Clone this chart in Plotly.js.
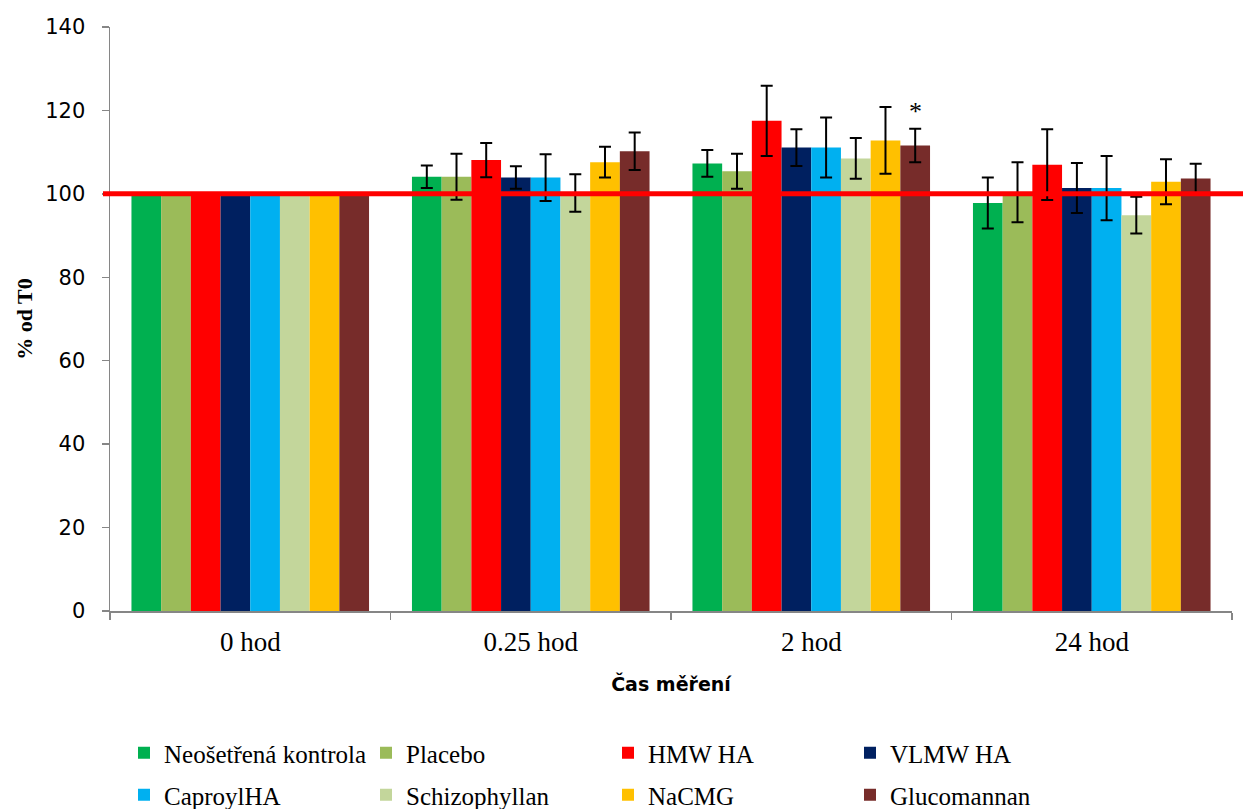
<!DOCTYPE html>
<html>
<head>
<meta charset="utf-8">
<script src="https://cdn.plot.ly/plotly-3.0.1.min.js"></script>
<style>html,body{margin:0;padding:0;background:#fff;}#chart{width:1243px;height:809px;}</style>
</head>
<body>
<div id="chart"></div>
<script>
const categories = ['0 hod', '0.25 hod', '2 hod', '24 hod'];
const seriesNames = ['Neošetřená kontrola', 'Placebo', 'HMW HA', 'VLMW HA', 'CaproylHA', 'Schizophyllan', 'NaCMG', 'Glucomannan'];
const seriesColors = ['#00B050', '#9BBB59', '#FF0000', '#002060', '#00B0F0', '#C3D69B', '#FFC000', '#772C2A'];

const kontrola      = [100, 104.1, 107.3, 97.8];
const placebo       = [100, 104.1, 105.4, 100.4];
const hmwHA         = [100, 108.1, 117.5, 107.0];
const vlmwHA        = [100, 103.9, 111.1, 101.4];
const caproylHA     = [100, 103.9, 111.1, 101.4];
const schizophyllan = [100, 100.2, 108.5, 94.9];
const naCMG         = [100, 107.6, 112.8, 102.9];
const glucomannan   = [100, 110.2, 111.6, 103.7];

const kontrolaErr      = [0, 2.7, 3.2, 6.1];
const placeboErr       = [0, 5.5, 4.2, 7.2];
const hmwHAErr         = [0, 4.1, 8.4, 8.5];
const vlmwHAErr        = [0, 2.7, 4.4, 6.0];
const caproylHAErr     = [0, 5.6, 7.2, 7.7];
const schizophyllanErr = [0, 4.5, 4.9, 4.4];
const naCMGErr         = [0, 3.7, 8.0, 5.4];
const glucomannanErr   = [0, 4.5, 4.0, 3.5];

const significance = ['', '', '*', ''];   // for Glucomannan
const referenceLevel = 100;
const yTicks = [0, 20, 40, 60, 80, 100, 120, 140];

const values = [kontrola, placebo, hmwHA, vlmwHA, caproylHA, schizophyllan, naCMG, glucomannan];
const errors = [kontrolaErr, placeboErr, hmwHAErr, vlmwHAErr, caproylHAErr, schizophyllanErr, naCMGErr, glucomannanErr];

const BARGAP = 0.153;
const serifFont = 'Liberation Serif, Times New Roman, serif';

const traces = seriesNames.map((name, i) => ({
  type: 'bar',
  name: name,
  x: categories,
  y: values[i],
  marker: {color: seriesColors[i], line: {width: 0}},
  error_y: {type: 'data', array: errors[i], visible: true, color: '#000000', thickness: 2, width: 6},
  legend: i < 4 ? 'legend' : 'legend2',
  hoverinfo: 'x+y+name'
}));

// significance annotations over Glucomannan bars
const nSeries = seriesNames.length;
const gIdx = 7;
const annotations = [];
significance.forEach((s, k) => {
  if (!s) return;
  const off = (gIdx - (nSeries - 1) / 2) * (1 - BARGAP) / nSeries;
  annotations.push({
    x: k + off, y: glucomannan[k] + glucomannanErr[k], xref: 'x', yref: 'y',
    text: s, showarrow: false, yanchor: 'bottom', yshift: 1,
    font: {family: serifFont, size: 26, color: '#000'}
  });
});

const legendCommon = {
  orientation: 'h', xanchor: 'left', yanchor: 'middle',
  entrywidth: 197, entrywidthmode: 'pixels',
  font: {family: serifFont, size: 25, color: '#000'},
  bgcolor: 'rgba(0,0,0,0)', borderwidth: 0, traceorder: 'normal'
};

const layout = {
  width: 1243, height: 809,
  margin: {l: 110, r: 11, t: 27, b: 198, pad: 0, autoexpand: false},
  paper_bgcolor: '#ffffff', plot_bgcolor: '#ffffff',
  barmode: 'group', bargap: BARGAP, bargroupgap: 0,
  showlegend: true,
  xaxis: {
    type: 'category', categoryorder: 'array', categoryarray: categories,
    automargin: false,
    showline: true, linecolor: '#868686', linewidth: 1.5,
    ticks: 'outside', tickson: 'boundaries', ticklen: 7, tickcolor: '#868686', tickwidth: 1.5,
    showgrid: false, zeroline: false,
    tickfont: {family: serifFont, size: 27, color: '#000'},
    ticklabelstandoff: 6,
    title: {text: 'Čas měření', font: {family: 'DejaVu Sans, sans-serif', size: 19, color: '#000', weight: 'bold'}, standoff: 22}
  },
  yaxis: {
    range: [0, 140], tickvals: yTicks, ticktext: yTicks.map(String),
    automargin: false,
    showline: true, linecolor: '#868686', linewidth: 1.5,
    ticks: 'outside', ticklen: 7, tickcolor: '#868686', tickwidth: 1.5,
    showgrid: false, zeroline: false,
    tickfont: {family: 'DejaVu Sans, sans-serif', size: 21, color: '#000'},
    ticklabelstandoff: 12,
    title: {text: '% od T0', font: {family: serifFont, size: 22, color: '#000', weight: 'bold'}, standoff: 6}
  },
  legend: Object.assign({}, legendCommon, {x: (144 - 20 - 110) / 1122, y: (611 - 753) / 584}),
  legend2: Object.assign({}, legendCommon, {x: (144 - 20 - 110) / 1122, y: (611 - 795) / 584}),
  shapes: [{
    type: 'line', xref: 'paper', yref: 'y',
    x0: (103 - 110) / 1122, x1: (1243 - 110) / 1122,
    y0: referenceLevel, y1: referenceLevel,
    line: {color: '#FF0000', width: 5}, layer: 'above'
  }],
  annotations: annotations
};

Plotly.newPlot('chart', traces, layout, {displayModeBar: false, staticPlot: true});
</script>
</body>
</html>
